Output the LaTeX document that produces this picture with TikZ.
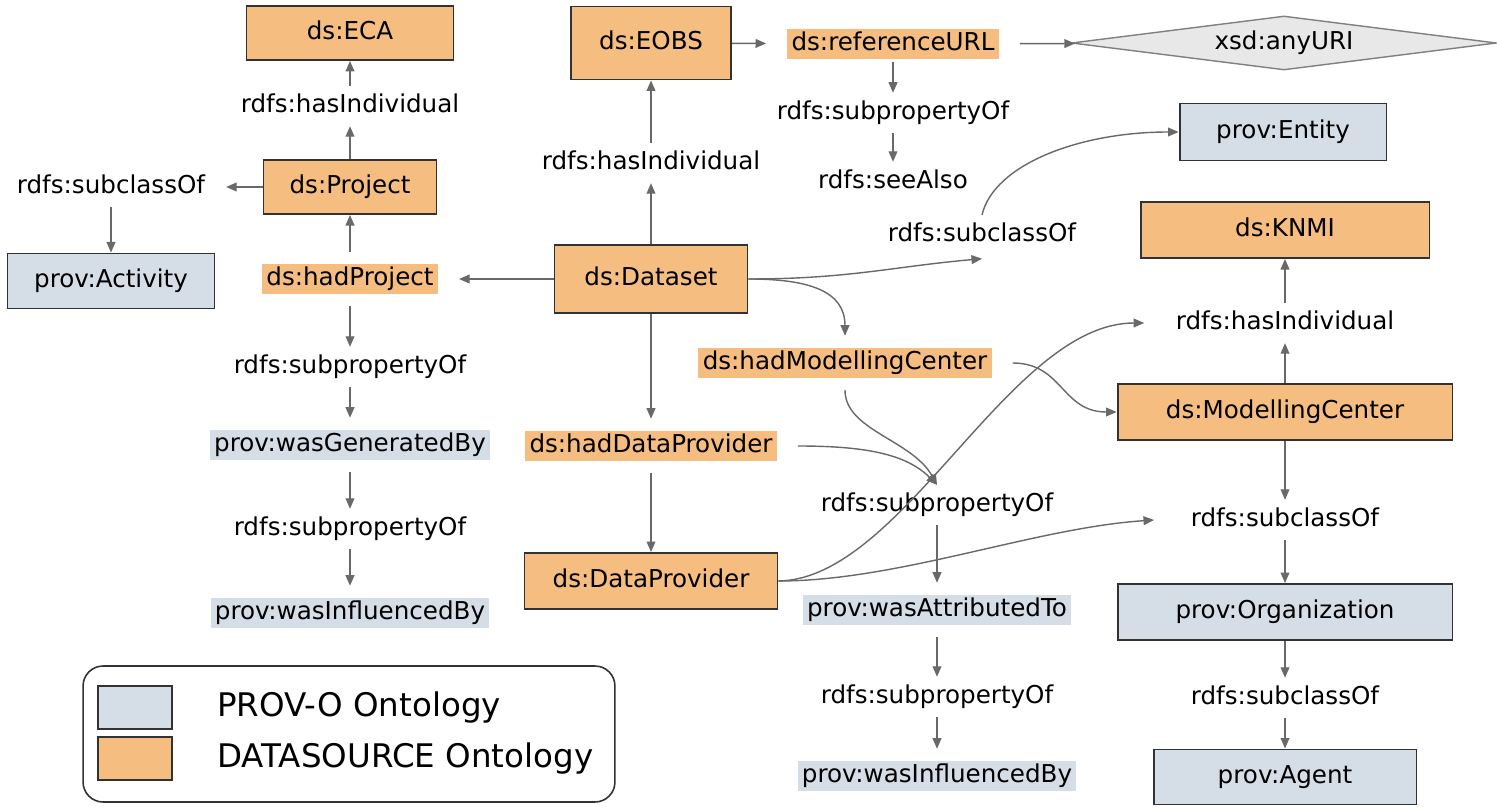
\documentclass[tikz,border=0pt]{standalone}
\usepackage{fontspec}
\setmainfont{DejaVu Sans}
\usetikzlibrary{arrows.meta,shapes.geometric,calc}
\definecolor{dsfill}{RGB}{245,189,127}
\definecolor{provfill}{RGB}{213,221,230}
\definecolor{edgegray}{RGB}{105,105,105}
\definecolor{boxline}{RGB}{50,50,50}
\definecolor{urifill}{RGB}{232,232,232}
\begin{document}
\begin{tikzpicture}[x=0.02cm,y=-0.02cm,
  every node/.style={font=\fontsize{14pt}{17pt}\selectfont, text height=10.6pt, text depth=3.4pt},
  box/.style={rectangle, draw=boxline, line width=1.1pt, inner sep=0pt},
  dsbox/.style={box, fill=dsfill},
  provbox/.style={box, fill=provfill},
  rel/.style={inner sep=0pt, outer xsep=12pt, outer ysep=4.5pt},
  dsprop/.style={fill=dsfill, inner xsep=2.5pt, inner ysep=1.5pt, outer xsep=12pt, outer ysep=7pt},
  provprop/.style={fill=provfill, inner xsep=2.5pt, inner ysep=1.5pt, outer xsep=12pt, outer ysep=7pt},
  arr/.style={draw=edgegray, line width=0.8pt, -{Triangle[length=6pt,width=5pt]}},
  legendtext/.style={font=\fontsize{18.5pt}{21pt}\selectfont, inner sep=0pt, anchor=west, text height=14pt, text depth=4.4pt}
]
\path[use as bounding box, fill=white] (0,0) rectangle (1497,807);

% left column: projects
\node[dsbox, minimum width=4.14cm, minimum height=1.08cm] (eca) at (350,33) {ds:ECA};
\node[rel] (hasIndL) at (350,106) {rdfs:hasIndividual};
\node[dsbox, minimum width=3.46cm, minimum height=1.08cm] (project) at (350,187) {ds:Project};
\node[rel] (subclassL) at (111,187) {rdfs:subclassOf};
\node[provbox, minimum width=4.14cm, minimum height=1.10cm] (activity) at (111,281) {prov:Activity};
\node[dsprop] (hadProject) at (350,279) {ds:hadProject};
\node[rel] (subpropL1) at (350,367) {rdfs:subpropertyOf};
\node[provprop] (wasGen) at (350,445) {prov:wasGeneratedBy};
\node[rel] (subpropL2) at (350,529) {rdfs:subpropertyOf};
\node[provprop] (wasInfL) at (350,613) {prov:wasInfluencedBy};

% middle column: dataset
\node[dsbox, minimum width=3.20cm, minimum height=1.46cm] (eobs) at (651,43) {ds:EOBS};
\node[rel] (hasIndM) at (651,163) {rdfs:hasIndividual};
\node[dsbox, minimum width=3.86cm, minimum height=1.36cm] (dataset) at (651,279) {ds:Dataset};
\node[dsprop] (hadDP) at (651,446) {ds:hadDataProvider};
\node[dsbox, minimum width=5.06cm, minimum height=1.12cm] (dataprov) at (651,581) {ds:DataProvider};

% reference URL chain
\node[dsprop, outer ysep=2pt] (refURL) at (893,44) {ds:referenceURL};
\node[diamond, aspect=7.9, draw=gray, line width=0.8pt, fill=urifill, inner sep=1pt,
      minimum width=8.5cm, minimum height=1.08cm] (anyURI) at (1284,43) {xsd:anyURI};
\node[rel] (subpropTop) at (893,113) {rdfs:subpropertyOf};
\node[rel] (seeAlso) at (893,182) {rdfs:seeAlso};
\node[rel] (subclassM) at (982,235) {rdfs:subclassOf};
\node[provbox, minimum width=4.14cm, minimum height=1.14cm] (entity) at (1283,132) {prov:Entity};

% modelling centre and attribution
\node[dsprop] (hadMC) at (845,363) {ds:hadModellingCenter};
\node[rel] (subpropM) at (937,505) {rdfs:subpropertyOf};
\node[provprop] (wasAttr) at (937,610) {prov:wasAttributedTo};
\node[rel] (subpropM2) at (937,697) {rdfs:subpropertyOf};
\node[provprop] (wasInfM) at (937,776) {prov:wasInfluencedBy};

% right column: organisations
\node[dsbox, minimum width=5.78cm, minimum height=1.12cm] (knmi) at (1285,230) {ds:KNMI};
\node[rel] (hasIndR) at (1285,323) {rdfs:hasIndividual};
\node[dsbox, minimum width=6.70cm, minimum height=1.12cm] (mc) at (1285,412) {ds:ModellingCenter};
\node[rel] (subclassR1) at (1285,520) {rdfs:subclassOf};
\node[provbox, minimum width=6.70cm, minimum height=1.12cm] (org) at (1285,612) {prov:Organization};
\node[rel] (subclassR2) at (1285,698) {rdfs:subclassOf};
\node[provbox, minimum width=5.26cm, minimum height=1.10cm] (agent) at (1285,777) {prov:Agent};

% legend
\node[draw=boxline, line width=0.9pt, rounded corners=0.4cm, minimum width=10.64cm,
      minimum height=2.72cm, inner sep=0pt] (legend) at (349,734) {};
\node[provbox, line width=0.8pt, minimum width=1.48cm, minimum height=0.86cm] (swprov) at (135,707.5) {};
\node[dsbox, line width=0.8pt, minimum width=1.48cm, minimum height=0.86cm] (swds) at (135,758.5) {};
\node[legendtext] (lgprov) at (217,708) {PROV-O Ontology};
\node[legendtext] (lgds) at (217,759) {DATASOURCE Ontology};

% straight connectors
\draw[arr] (hasIndL) -- (eca);
\draw[arr] (project) -- (hasIndL);
\draw[arr] (project) -- (subclassL);
\draw[arr] (subclassL) -- (activity);
\draw[arr] (hadProject) -- (project);
\draw[arr] (dataset) -- (hadProject);
\draw[arr] (hadProject) -- (subpropL1);
\draw[arr] (subpropL1) -- (wasGen);
\draw[arr] (wasGen) -- (subpropL2);
\draw[arr] (subpropL2) -- (wasInfL);
\draw[arr] (dataset) -- (hasIndM);
\draw[arr] (hasIndM) -- (eobs);
\draw[arr] (eobs) -- (refURL);
\draw[arr] (refURL) -- (anyURI);
\draw[arr] (refURL) -- (subpropTop);
\draw[arr] (subpropTop) -- (seeAlso);
\draw[arr] (dataset) -- (hadDP);
\draw[arr] (hadDP) -- (dataprov);
\draw[arr] (subpropM) -- (wasAttr);
\draw[arr] (wasAttr) -- (subpropM2);
\draw[arr] (subpropM2) -- (wasInfM);
\draw[arr] (mc) -- (hasIndR);
\draw[arr] (hasIndR) -- (knmi);
\draw[arr] (mc) -- (subclassR1);
\draw[arr] (subclassR1) -- (org);
\draw[arr] (org) -- (subclassR2);
\draw[arr] (subclassR2) -- (agent);

% curved connectors
\draw[arr] (dataset.east) .. controls +(100,0) and +(-90,8) .. ([yshift=-2pt]subclassM.south);
\draw[arr] (subclassM.north) .. controls +(12,-50) and +(-100,0) .. (entity.west);
\draw[arr] (dataset.east) .. controls +(60,0) and +(0,-45) .. (hadMC.north);
\draw[arr] (hadMC.east) .. controls +(50,0) and +(-55,0) .. (mc.west);
\draw[arr] (hadMC.south) .. controls +(0,40) and +(-25,-45) .. (subpropM.north);
\draw[arr] (hadDP.east) .. controls +(70,0) and +(-30,-30) .. (subpropM.north);
\draw[arr] (dataprov.east) .. controls +(125,-2) and +(-135,0) .. ([xshift=-6pt]hasIndR.west);
\draw[arr] (dataprov.east) .. controls +(120,0) and +(-120,8) .. ([xshift=-9pt]subclassR1.west);
\end{tikzpicture}
\end{document}
